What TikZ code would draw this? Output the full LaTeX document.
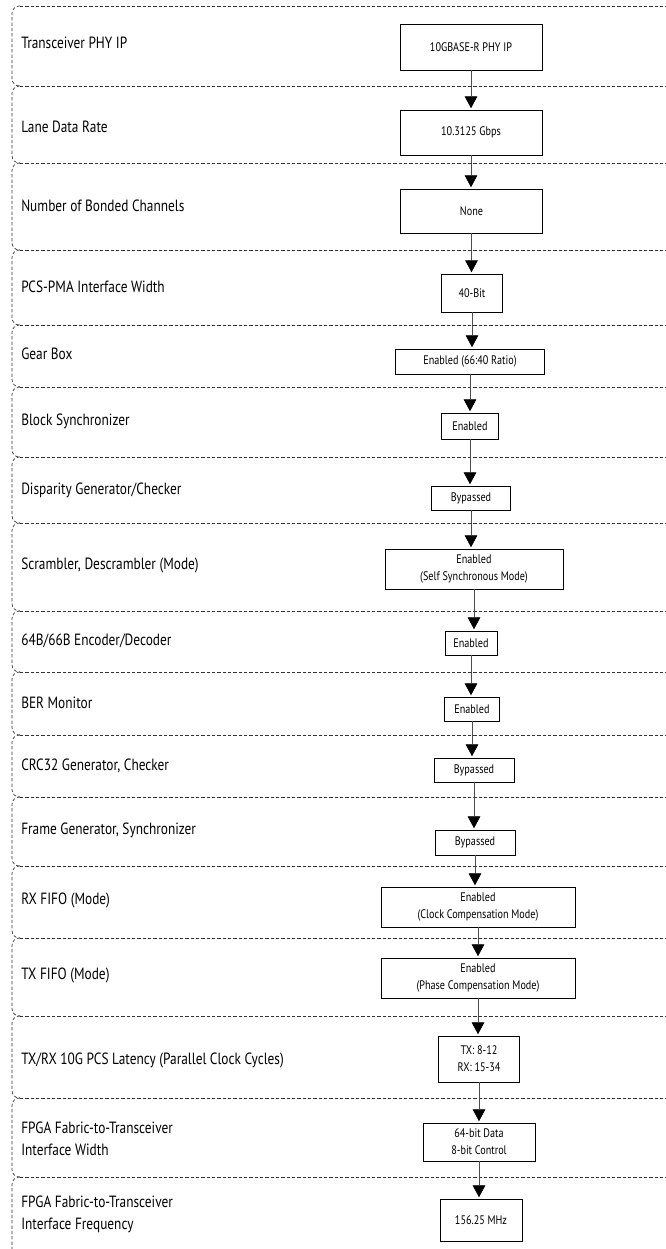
\documentclass[tikz,border=0pt]{standalone}
\usepackage{fontspec}
\setmainfont{PT Sans}[FakeStretch=0.82]
\usetikzlibrary{arrows.meta}

\begin{document}
\begin{tikzpicture}[x=0.75pt,y=-0.75pt,font=\fontsize{12.2}{16.5}\selectfont,>=Latex]
\tikzset{box/.style={draw,line width=0.6pt,fill=white,align=center,inner sep=1pt,font=\fontsize{9.3}{12.75}\selectfont}, lbl/.style={anchor=west,align=left,inner sep=0pt}, rowline/.style={draw=black!80,line width=0.5pt,dash pattern=on 2.4pt off 1.6pt,rounded corners=5.5pt}, flow/.style={-{Triangle[length=9pt,width=9.5pt,color=black]},line width=0.6pt,color=black!70,shorten >=1pt}}
\useasboundingbox (0,0) rectangle (666,1249);
\foreach \t/\b in {6/86,86/163,163/250,250/325,325/387,387/457,457/523,523/611,611/672,672/735,735/797,797/866,866/938,938/1016,1016/1098,1098/1177}
  \draw[rowline] (20,\t) -- (12,\t) -- (12,\b) -- (20,\b);
\draw[rowline] (20,1177) -- (12,1177) -- (12,1249);
\foreach \y in {6,86,163,250,325,387,457,523,611,672,735,797,866,938,1016,1098,1177}
  \draw[rowline] (20,\y) -- (666,\y);
\node[lbl] (lphy) at (21,43) {Transceiver PHY IP};
\node[lbl] (lrate) at (21,127) {Lane Data Rate};
\node[lbl] (lbond) at (21,206) {Number of Bonded Channels};
\node[lbl] (lwidth) at (21,287) {PCS-PMA Interface Width};
\node[lbl] (lgear) at (21,354) {Gear Box};
\node[lbl] (lbsync) at (21,421) {Block Synchronizer};
\node[lbl] (ldisp) at (21,490) {Disparity Generator/Checker};
\node[lbl] (lscram) at (21,565) {Scrambler, Descrambler (Mode)};
\node[lbl] (lenc) at (21,641) {64B/66B Encoder/Decoder};
\node[lbl] (lber) at (21,703) {BER Monitor};
\node[lbl] (lcrc) at (21,766) {CRC32 Generator, Checker};
\node[lbl] (lframe) at (21,830) {Frame Generator, Synchronizer};
\node[lbl] (lrx) at (21,900) {RX FIFO (Mode)};
\node[lbl] (ltx) at (21,975) {TX FIFO (Mode)};
\node[lbl] (llat) at (21,1060) {TX/RX 10G PCS Latency (Parallel Clock Cycles)};
\node[lbl] (lfwidth) at (21,1139) {FPGA Fabric-to-Transceiver\\Interface Width};
\node[lbl] (lffreq) at (21,1214) {FPGA Fabric-to-Transceiver\\Interface Frequency};
\node[box,minimum width=106.5pt,minimum height=34.5pt] (phy) at (471,47) {10GBASE-R PHY IP};
\node[box,minimum width=106.5pt,minimum height=33.75pt] (rate) at (471,132.5) {10.3125 Gbps};
\node[box,minimum width=106.5pt,minimum height=33pt] (bond) at (471.5,211) {None};
\node[box,minimum width=45.75pt,minimum height=28.5pt] (width) at (472,293) {40-Bit};
\node[box,minimum width=111.75pt,minimum height=18.75pt] (gear) at (470,361.5) {Enabled (66:40 Ratio)};
\node[box,minimum width=42.75pt,minimum height=19.5pt] (bsync) at (470,426) {Enabled};
\node[box,minimum width=59.25pt,minimum height=18pt] (disp) at (471,498) {Bypassed};
\node[box,minimum width=133.5pt,minimum height=30pt] (scram) at (474,569) {Enabled\\(Self Synchronous Mode)};
\node[box,minimum width=39pt,minimum height=18pt] (enc) at (471,643) {Enabled};
\node[box,minimum width=41pt,minimum height=18pt] (ber) at (472,709) {Enabled};
\node[box,minimum width=60pt,minimum height=18pt] (crc) at (474,770) {Bypassed};
\node[box,minimum width=60pt,minimum height=18.75pt] (frame) at (475,842.5) {Bypassed};
\node[box,minimum width=145.5pt,minimum height=30pt] (rx) at (478,907) {Enabled\\(Clock Compensation Mode)};
\node[box,minimum width=145.5pt,minimum height=30pt] (tx) at (478,978) {Enabled\\(Phase Compensation Mode)};
\node[box,minimum width=60.75pt,minimum height=34.5pt] (lat) at (479,1059) {TX: 8-12\\RX: 15-34};
\node[box,minimum width=84pt,minimum height=28.5pt] (fwidth) at (479,1142) {64-bit Data\\8-bit Control};
\node[box,minimum width=61.5pt,minimum height=31.5pt] (ffreq) at (481,1220) {156.25 MHz};
\draw[flow] (phy.south) -- (phy.south |- rate.north);
\draw[flow] (rate.south) -- (rate.south |- bond.north);
\draw[flow] (bond.south) -- (bond.south |- width.north);
\draw[flow] (width.south) -- (width.south |- gear.north);
\draw[flow] (gear.south) -- (gear.south |- bsync.north);
\draw[flow] (bsync.south) -- (bsync.south |- disp.north);
\draw[flow] (disp.south) -- (disp.south |- scram.north);
\draw[flow] (scram.south) -- (scram.south |- enc.north);
\draw[flow] (enc.south) -- (enc.south |- ber.north);
\draw[flow] (ber.south) -- (ber.south |- crc.north);
\draw[flow] (crc.south) -- (crc.south |- frame.north);
\draw[flow] (frame.south) -- (frame.south |- rx.north);
\draw[flow] (rx.south) -- (rx.south |- tx.north);
\draw[flow] (tx.south) -- (tx.south |- lat.north);
\draw[flow] (lat.south) -- (lat.south |- fwidth.north);
\draw[flow] (fwidth.south) -- (fwidth.south |- ffreq.north);
\end{tikzpicture}
\end{document}
